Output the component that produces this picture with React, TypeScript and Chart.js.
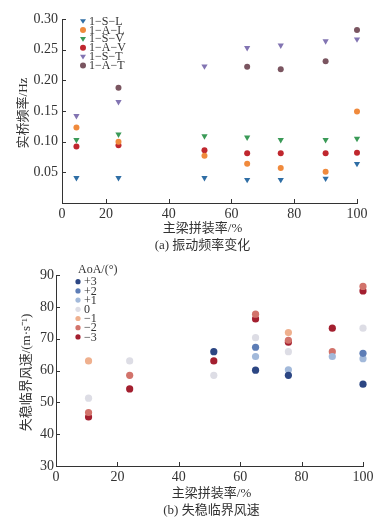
import React, { useEffect, useRef } from 'react';
import { Chart, registerables } from 'chart.js';
Chart.register(...registerables);

// ---------- data ----------
const assemblyRate = [10.6, 24, 51.4, 65, 75.7, 90, 100];

const freqSeriesNames = ['1−S−L', '1−A−L', '1−S−V', '1−A−V', '1−S−T', '1−A−T'];
const freq_1SL = [0.041, 0.041, 0.041, 0.038, 0.038, 0.040, 0.064];
const freq_1AL = [0.123, 0.100, 0.077, 0.064, 0.057, 0.051, 0.149];
const freq_1SV = [0.103, 0.112, 0.109, 0.107, 0.103, 0.103, 0.105];
const freq_1AV = [0.092, 0.094, 0.086, 0.081, 0.081, 0.081, 0.082];
const freq_1ST = [0.142, 0.165, 0.223, 0.253, 0.257, 0.264, 0.267];
const freq_1AT = [null, 0.188, null, 0.222, 0.218, 0.231, 0.282];
const freqTicks = [0.05, 0.10, 0.15, 0.20, 0.25, 0.30];

const aoaNames = ['+3', '+2', '+1', '0', '−1', '−2', '−3'];
const speed_p3 = [null, null, 65.9, 60.1, 58.5, null, 55.7];
const speed_p2 = [null, null, null, 67.3, null, null, 65.4];
const speed_p1 = [null, null, null, 64.4, 60.2, 64.4, 63.7];
const speed_0 = [51.3, 63.0, 58.5, 70.3, 65.9, null, 73.3];
const speed_m1 = [63.0, null, null, null, 71.9, null, null];
const speed_m2 = [46.8, 58.5, null, 77.7, 69.5, 65.9, 86.4];
const speed_m3 = [45.4, 54.2, 63.0, 76.2, 68.9, 73.3, 85.0];
const xTickValues = [20, 40, 60, 80, 100];

// ---------- styles ----------
const SERIF = '"Liberation Serif", "Noto Sans CJK SC", serif';
const TXT = '#333333';
const freqColors = ['#2f6ea5', '#f08a3c', '#3a9a57', '#c0272e', '#8274b2', '#7a5560'];
const freqShapes = ['tri', 'circle', 'tri', 'circle', 'tri', 'circle'];
const aoaColors = ['#2c4683', '#5d7db6', '#a2b9da', '#dddde5', '#efb08e', '#d2736b', '#a31f2f'];

const toPoints = (arr: (number | null)[]) =>
  assemblyRate
    .map((x, i) => ({ x, y: arr[i] }))
    .filter((p) => p.y !== null && p.y !== undefined) as { x: number; y: number }[];

function drawMarker(ctx: CanvasRenderingContext2D, shape: string, x: number, y: number, r: number, color: string) {
  ctx.save();
  ctx.fillStyle = color;
  ctx.beginPath();
  if (shape === 'tri') {
    ctx.moveTo(x - r, y - r * 0.6);
    ctx.lineTo(x + r, y - r * 0.6);
    ctx.lineTo(x, y + r * 0.95);
    ctx.closePath();
  } else {
    ctx.arc(x, y, r, 0, Math.PI * 2);
  }
  ctx.fill();
  ctx.restore();
}

function makeTicksPlugin(skipY: number[]) {
  return {
    id: 'inwardTicks',
    afterDraw(chart: any) {
      const ctx = chart.ctx;
      const { left, bottom } = chart.chartArea;
      ctx.save();
      ctx.strokeStyle = TXT;
      ctx.lineWidth = 1;
      const xs = chart.scales.x;
      xs.ticks.forEach((t: any) => {
        if (t.value <= xs.min) return;
        const px = Math.round(xs.getPixelForValue(t.value)) + 0.5;
        ctx.beginPath();
        ctx.moveTo(px, bottom);
        ctx.lineTo(px, bottom - 4);
        ctx.stroke();
      });
      const ys = chart.scales.y;
      ys.ticks.forEach((t: any) => {
        if (t.value <= ys.min || skipY.includes(t.value)) return;
        const py = Math.round(ys.getPixelForValue(t.value)) + 0.5;
        ctx.beginPath();
        ctx.moveTo(left, py);
        ctx.lineTo(left + 4, py);
        ctx.stroke();
      });
      ctx.restore();
    },
  };
}

function makeTextPlugin(cfg: { xTitle: string; caption: string; yTitle: string; xTitleDy: number; captionDy: number; yTitleX: number; xShift: number }) {
  return {
    id: 'texts',
    afterDraw(chart: any) {
      const ctx = chart.ctx;
      const { left, right, top, bottom } = chart.chartArea;
      const cx = (left + right) / 2 + cfg.xShift;
      ctx.save();
      ctx.fillStyle = TXT;
      ctx.font = '13px ' + SERIF;
      ctx.textAlign = 'center';
      ctx.textBaseline = 'middle';
      ctx.fillText(cfg.xTitle, cx, bottom + cfg.xTitleDy);
      ctx.fillText(cfg.caption, cx, bottom + cfg.captionDy);
      ctx.translate(cfg.yTitleX, (top + bottom) / 2 + 2);
      ctx.rotate(-Math.PI / 2);
      ctx.fillText(cfg.yTitle, 0, 0);
      ctx.restore();
    },
  };
}

function makeLegendPlugin(cfg: { x: number; y0: number; dy: number; title?: string; titleY?: number; names: string[]; colors: string[]; shapes: string[]; r: number }) {
  return {
    id: 'insideLegend',
    afterDraw(chart: any) {
      const ctx = chart.ctx;
      ctx.save();
      ctx.font = '12px ' + SERIF;
      ctx.textBaseline = 'middle';
      ctx.textAlign = 'left';
      ctx.fillStyle = TXT;
      if (cfg.title) ctx.fillText(cfg.title, cfg.x, cfg.titleY as number);
      cfg.names.forEach((n, i) => {
        const y = cfg.y0 + i * cfg.dy;
        drawMarker(ctx, cfg.shapes[i], cfg.x, y, cfg.r, cfg.colors[i]);
        ctx.fillStyle = TXT;
        ctx.fillText(n, cfg.x + 6, y + 0.5);
      });
      ctx.restore();
    },
  };
}

function FreqChart() {
  const ref = useRef<HTMLCanvasElement>(null);
  useEffect(() => {
    const series = [freq_1SL, freq_1AL, freq_1SV, freq_1AV, freq_1ST, freq_1AT];
    const chart = new Chart(ref.current as HTMLCanvasElement, {
      type: 'scatter',
      data: {
        datasets: series.map((s, i) => ({
          label: freqSeriesNames[i],
          data: toPoints(s),
          backgroundColor: freqColors[i],
          borderWidth: 0,
          clip: false,
          pointStyle: freqShapes[i] === 'tri' ? 'triangle' : 'circle',
          rotation: freqShapes[i] === 'tri' ? 180 : 0,
          pointRadius: freqShapes[i] === 'tri' ? 3.6 : 3,
        })),
      },
      options: {
        animation: false,
        responsive: false,
        layout: { padding: { top: 19, right: 30, left: 0, bottom: 0 } },
        plugins: { legend: { display: false }, tooltip: { enabled: false } },
        scales: {
          x: {
            type: 'linear',
            min: 6,
            max: 100,
            afterBuildTicks: (s: any) => {
              s.ticks = [6, ...xTickValues].map((v) => ({ value: v }));
            },
            afterFit: (s: any) => {
              s.height = 57;
            },
            ticks: {
              padding: 3,
              color: TXT,
              font: { family: SERIF, size: 14 },
              callback: (v: any) => (v === 6 ? '0' : String(v)),
            },
            grid: { drawOnChartArea: false, drawTicks: false },
            border: { color: TXT, width: 1 },
          },
          y: {
            min: 0,
            max: 0.3,
            afterBuildTicks: (s: any) => {
              s.ticks = [0, ...freqTicks].map((v) => ({ value: v }));
            },
            afterFit: (s: any) => {
              s.width = 62;
            },
            ticks: {
              padding: 4,
              color: TXT,
              font: { family: SERIF, size: 14 },
              callback: (v: any) => (v === 0 ? '' : Number(v).toFixed(2)),
            },
            grid: { drawOnChartArea: false, drawTicks: false },
            border: { color: TXT, width: 1 },
          },
        },
      },
      plugins: [
        makeTicksPlugin([]),
        makeTextPlugin({ xTitle: '主梁拼装率/%', caption: '(a) 振动频率变化', yTitle: '实桥频率/Hz', xTitleDy: 26, captionDy: 43, yTitleX: 24, xShift: -7 }),
        makeLegendPlugin({ x: 83, y0: 21, dy: 8.9, names: freqSeriesNames, colors: freqColors, shapes: freqShapes, r: 3 }),
      ],
    } as any);
    return () => chart.destroy();
  }, []);
  return <canvas ref={ref} width={387} height={260} style={{ display: 'block', width: 387, height: 260 }} />;
}

function SpeedChart() {
  const ref = useRef<HTMLCanvasElement>(null);
  useEffect(() => {
    const series = [speed_p3, speed_p2, speed_p1, speed_0, speed_m1, speed_m2, speed_m3];
    const chart = new Chart(ref.current as HTMLCanvasElement, {
      type: 'scatter',
      data: {
        datasets: series.map((s, i) => ({
          label: aoaNames[i],
          data: toPoints(s),
          backgroundColor: aoaColors[i],
          borderWidth: 0,
          clip: false,
          pointStyle: 'circle',
          pointRadius: 3.6,
        })),
      },
      options: {
        animation: false,
        responsive: false,
        layout: { padding: { top: 15, right: 24, left: 0, bottom: 0 } },
        plugins: { legend: { display: false }, tooltip: { enabled: false } },
        scales: {
          x: {
            type: 'linear',
            min: 0,
            max: 100,
            afterBuildTicks: (s: any) => {
              s.ticks = [0, ...xTickValues].map((v) => ({ value: v }));
            },
            afterFit: (s: any) => {
              s.height = 57;
            },
            ticks: { padding: 3, color: TXT, font: { family: SERIF, size: 14 } },
            grid: { drawOnChartArea: false, drawTicks: false },
            border: { color: TXT, width: 1 },
          },
          y: {
            min: 30,
            max: 90,
            ticks: { stepSize: 10, padding: 2, color: TXT, font: { family: SERIF, size: 14 } },
            afterFit: (s: any) => {
              s.width = 56;
            },
            grid: { drawOnChartArea: false, drawTicks: false },
            border: { color: TXT, width: 1 },
          },
        },
      },
      plugins: [
        makeTicksPlugin([]),
        makeTextPlugin({ xTitle: '主梁拼装率/%', caption: '(b) 失稳临界风速', yTitle: '失稳临界风速/(m·s⁻¹)', xTitleDy: 28, captionDy: 44.5, yTitleX: 27, xShift: 2 }),
        makeLegendPlugin({ x: 78, y0: 21.7, dy: 9.2, title: 'AoA/(°)', titleY: 10, names: aoaNames, colors: aoaColors, shapes: aoaNames.map(() => 'circle'), r: 2.6 }),
      ],
    } as any);
    return () => chart.destroy();
  }, []);
  return <canvas ref={ref} width={387} height={263} style={{ display: 'block', width: 387, height: 263 }} />;
}

export default function App() {
  return (
    <div style={{ position: 'absolute', left: 0, top: 0, width: 387, height: 523, background: '#fff' }}>
      <FreqChart />
      <SpeedChart />
    </div>
  );
}
